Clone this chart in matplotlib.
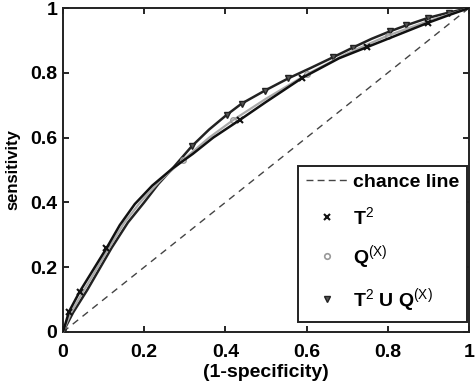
import matplotlib
matplotlib.use("Agg")
import matplotlib.pyplot as plt
from matplotlib.lines import Line2D

plt.rcParams['font.family'] = ['Liberation Sans', 'DejaVu Sans']
plt.rcParams['mathtext.fontset'] = 'custom'
plt.rcParams['mathtext.rm'] = 'Liberation Sans'
plt.rcParams['mathtext.it'] = 'Liberation Sans'
plt.rcParams['mathtext.bf'] = 'Liberation Sans'

# ROC data (1-specificity, sensitivity)
t2_fpr = [0.0, 0.015, 0.041, 0.107, 0.14, 0.177, 0.22, 0.27, 0.32, 0.37, 0.436, 0.5, 0.59, 0.68, 0.75, 0.83, 0.9, 0.95, 1.0]
t2_tpr = [0.0, 0.063, 0.124, 0.258, 0.33, 0.395, 0.452, 0.505, 0.55, 0.6, 0.655, 0.71, 0.785, 0.845, 0.88, 0.92, 0.955, 0.978, 1.0]
t2_marks = [1, 2, 3, 10, 12, 14, 16]

q_fpr = [0.0, 0.02, 0.05, 0.113, 0.15, 0.19, 0.24, 0.296, 0.36, 0.42, 0.5, 0.6, 0.7, 0.8, 0.9, 1.0]
q_tpr = [0.0, 0.06, 0.125, 0.258, 0.335, 0.4, 0.468, 0.531, 0.6, 0.655, 0.72, 0.795, 0.86, 0.915, 0.96, 1.0]
q_marks = [7, 9, 11, 13]

u_fpr = [0.0, 0.025, 0.06, 0.12, 0.16, 0.2, 0.235, 0.27, 0.317, 0.36, 0.403, 0.44, 0.497, 0.555, 0.61, 0.665, 0.714, 0.76, 0.805, 0.846, 0.9, 0.95, 1.0]
u_tpr = [0.0, 0.06, 0.13, 0.26, 0.338, 0.4, 0.457, 0.505, 0.573, 0.625, 0.67, 0.705, 0.745, 0.783, 0.815, 0.848, 0.878, 0.905, 0.928, 0.947, 0.97, 0.986, 1.0]
u_marks = [0, 8, 10, 11, 12, 13, 15, 16, 18, 19, 20, 21]

chance = [0.0, 1.0]

fig = plt.figure(figsize=(4.77, 3.86), dpi=100)
ax = fig.add_axes([0.132, 0.14, 0.851, 0.839])

ax.plot(chance, chance, linestyle=(0, (5, 4)), color='#444444', lw=1.0)
ax.plot(u_fpr, u_tpr, color='#222222', lw=1.8, marker='v', ms=5, mfc='#555555', mec='#222222',
        markevery=u_marks, zorder=3)
ax.plot(q_fpr, q_tpr, color='#aaaaaa', lw=1.6, marker='o', ms=4, mfc='none', mec='#999999',
        markevery=q_marks, zorder=4)
ax.plot(t2_fpr, t2_tpr, color='#111111', lw=1.8, marker='x', ms=4, mew=1.5,
        markevery=t2_marks, zorder=5)

ax.set_xlim(0, 1)
ax.set_ylim(0, 1)
ax.set_xticks([0, 0.2, 0.4, 0.6, 0.8, 1])
ax.set_xticklabels(['0', '0.2', '0.4', '0.6', '0.8', '1'])
ax.set_yticks([0, 0.2, 0.4, 0.6, 0.8, 1])
ax.set_yticklabels(['0', '0.2', '0.4', '0.6', '0.8', '1'])
ax.tick_params(direction='in', length=4, width=1.2, labelsize=14, top=True, right=True)
ax.tick_params(axis='x', pad=9)
ax.tick_params(axis='y', pad=4)
for lab in ax.get_xticklabels() + ax.get_yticklabels():
    lab.set_fontweight('bold')
for s in ax.spines.values():
    s.set_linewidth(1.4)
    s.set_color('#222222')

ax.set_xlabel('(1-specificity)', fontsize=14, fontweight='bold', labelpad=2)
ax.set_ylabel('sensitivity', fontsize=12, fontweight='bold', labelpad=7)

handles = [
    Line2D([], [], linestyle=(0, (5, 3)), color='#444444', lw=1.0),
    Line2D([], [], linestyle='none', marker='x', ms=4, mew=1.5, color='#111111'),
    Line2D([], [], linestyle='none', marker='o', ms=4, mfc='none', mec='#999999', mew=1.2),
    Line2D([], [], linestyle='none', marker='v', ms=5, mfc='#555555', mec='#222222'),
]
labels = ['chance line', r'T$^{2}$', r'Q$^{(X)}$', r'T$^{2}$ U Q$^{(X)}$']
leg = ax.legend(handles, labels, loc='lower right', borderaxespad=0,
                bbox_to_anchor=(0.995, 0.031), prop={'size': 14, 'weight': 'bold'},
                fancybox=False, edgecolor='#222222', framealpha=1, handlelength=2.1,
                handletextpad=0.3, labelspacing=0.78, borderpad=0.4)
leg.get_frame().set_linewidth(1.4)

fig.savefig('out.png', dpi=100)
